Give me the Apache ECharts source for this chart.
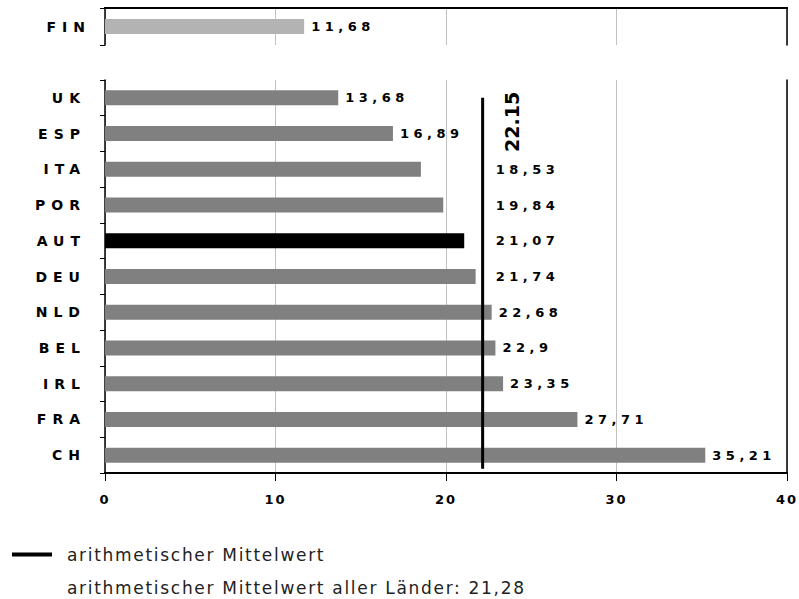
<!DOCTYPE html>
<html>
<head>
<meta charset="utf-8">
<script src="https://cdn.jsdelivr.net/npm/echarts@6/dist/echarts.min.js"></script>
<style>
  html, body { margin: 0; padding: 0; background: #fff; }
  #chart { width: 799px; height: 599px; }
  /* wide tracking for the bold value labels */
  #chart text[style*="bold"] { letter-spacing: 4.5px; }
  /* country names */
  #chart text[style*="bold"][style*="14px"] { letter-spacing: 6px; }
  /* x tick labels */
  #chart text[style*="800"] { letter-spacing: 2px; }
  /* legend / note lines */
  #chart text[style*="17px"] { letter-spacing: 1.7px; }
</style>
</head>
<body>
<div id="chart"></div>
<script>
// Separate reference country shown above the main group
const topCategories = ['FIN'];
const topValues = [11.68];

// Main group, top to bottom
const categories = ['UK', 'ESP', 'ITA', 'POR', 'AUT', 'DEU', 'NLD', 'BEL', 'IRL', 'FRA', 'CH'];
const values = [13.68, 16.89, 18.53, 19.84, 21.07, 21.74, 22.68, 22.9, 23.35, 27.71, 35.21];
const highlighted = 'AUT';

// Mean of the main group and of all countries
const groupMean = 22.15;
const allMeanText = '21,28';

const xTicks = [0, 10, 20, 30, 40];

const FONT = 'DejaVu Sans';
const BAR_GREY = '#808080';
const FIN_GREY = '#b3b3b3';
const GRID_GREY = '#c0c0c0';

// Panel layout
const CHART_W = 799;
const PANEL_LEFT = 105;
const PANEL_RIGHT = 12;
const TOP_PANEL = { top: 8, height: 37 };
const MAIN_PANEL = { top: 80, height: 393 };

const fmt = v => String(v).replace('.', ',');

const chart = echarts.init(document.getElementById('chart'), null, { renderer: 'svg' });

const valueLabel = {
  show: true,
  position: 'right',
  distance: 7,
  color: '#000',
  fontFamily: FONT,
  fontSize: 13,
  fontWeight: 'bold',
  formatter: p => fmt(p.value)
};

function xAxisBase(gridIndex) {
  return {
    type: 'value',
    gridIndex,
    min: xTicks[0],
    max: xTicks[xTicks.length - 1],
    interval: xTicks[1] - xTicks[0],
    splitLine: { show: true, lineStyle: { color: GRID_GREY, width: 1 } }
  };
}

// Vertical frame edge on the right of a panel
function edgeYAxis(gridIndex) {
  return {
    type: 'value', gridIndex, position: 'right', min: 0, max: 1,
    axisLine: { show: true, onZero: false, lineStyle: { color: '#000', width: 1.5 } },
    axisTick: { show: false }, axisLabel: { show: false }, splitLine: { show: false }
  };
}

// Horizontal frame edge drawn as a thin filled strip
function edgeStrip(id, y, h) {
  return {
    id, type: 'rect', z: 100, silent: true,
    shape: { x: PANEL_LEFT - 1, y, width: CHART_W - PANEL_RIGHT - PANEL_LEFT + 2, height: h },
    style: { fill: '#000' }
  };
}

function buildMainData(offsets) {
  return values.map((v, i) => {
    const item = {
      value: v,
      itemStyle: { color: categories[i] === highlighted ? '#000' : BAR_GREY }
    };
    if (offsets && offsets[i]) item.label = { offset: [offsets[i], 0] };
    return item;
  });
}

const catLabel = { color: '#000', fontFamily: FONT, fontSize: 14, fontWeight: 'bold' };

const graphics = [
  {
    id: 'note', type: 'text', left: 67, top: 579,
    style: {
      text: 'arithmetischer Mittelwert aller Länder: ' + allMeanText,
      fill: '#222', fontFamily: FONT, fontSize: 17
    }
  },
  edgeStrip('topEdge', TOP_PANEL.top - 1, 2),
  edgeStrip('baseEdge', MAIN_PANEL.top + MAIN_PANEL.height - 1, 2)
];

const option = {
  animation: false,
  backgroundColor: '#fff',
  grid: [
    { left: PANEL_LEFT, right: PANEL_RIGHT, top: TOP_PANEL.top, height: TOP_PANEL.height },
    { left: PANEL_LEFT, right: PANEL_RIGHT, top: MAIN_PANEL.top, height: MAIN_PANEL.height }
  ],
  xAxis: [
    Object.assign(xAxisBase(0), {
      position: 'top',
      axisLine: { show: false },
      axisTick: { show: false },
      axisLabel: { show: false }
    }),
    Object.assign(xAxisBase(1), {
      position: 'bottom',
      axisLine: { show: false },
      axisTick: { show: true, length: 8, lineStyle: { color: '#000', width: 1 } },
      axisLabel: {
        show: true, margin: 20, color: '#000',
        fontFamily: FONT, fontSize: 13, fontWeight: 800
      }
    })
  ],
  yAxis: [
    {
      type: 'category', gridIndex: 0, data: topCategories, inverse: true,
      axisLine: { show: true, onZero: false, lineStyle: { color: '#000', width: 1.5 } },
      axisTick: { show: true, length: 5, lineStyle: { color: '#000' } },
      axisLabel: Object.assign({ margin: 14 }, catLabel)
    },
    {
      type: 'category', gridIndex: 1, data: categories, inverse: true,
      axisLine: { show: true, onZero: false, lineStyle: { color: '#000', width: 1.5 } },
      axisTick: { show: true, length: 5, lineStyle: { color: '#000' } },
      axisLabel: Object.assign({ margin: 19 }, catLabel)
    },
    edgeYAxis(0),
    edgeYAxis(1),
    // category-unit scale used to place the mean line inside the main group
    {
      type: 'value', gridIndex: 1, min: 0, max: categories.length, inverse: true, show: false
    }
  ],
  legend: {
    left: 7, top: 541,
    icon: 'rect', itemWidth: 40, itemHeight: 4,
    textStyle: { color: '#222', fontFamily: FONT, fontSize: 17, padding: [0, 0, 0, 10] },
    data: ['arithmetischer Mittelwert'],
    selectedMode: false
  },
  graphic: graphics,
  series: [
    {
      type: 'bar', name: 'FIN', xAxisIndex: 0, yAxisIndex: 0,
      barWidth: 15,
      data: topValues.map(v => ({ value: v, itemStyle: { color: FIN_GREY } })),
      label: valueLabel
    },
    {
      type: 'bar', name: 'Länder', xAxisIndex: 1, yAxisIndex: 1,
      barWidth: 15,
      data: buildMainData(null),
      label: valueLabel
    },
    {
      type: 'line', name: 'arithmetischer Mittelwert', xAxisIndex: 1, yAxisIndex: 4,
      symbol: 'circle', symbolSize: 0.1,
      itemStyle: { color: '#000' },
      lineStyle: { color: '#000', width: 3 },
      data: [
        {
          value: [groupMean, 0.5],
          label: {
            show: true, position: 'inside', rotate: 90,
            align: 'center', verticalAlign: 'middle', offset: [-24, 29],
            color: '#000', fontFamily: FONT, fontSize: 19, fontWeight: 700,
            formatter: p => String(p.value[0])
          }
        },
        [groupMean, 10.88]
      ],
      z: 5
    }
  ]
};

chart.setOption(option);

// Labels that would run into the mean line are moved to its right side.
const meanPx = chart.convertToPixel({ xAxisIndex: 1 }, groupMean);
const offsets = values.map(v => {
  const px = chart.convertToPixel({ xAxisIndex: 1 }, v);
  if (v < groupMean && px + 7 + 62 > meanPx) {
    return (meanPx + 13) - (px + 7);
  }
  return 0;
});
chart.setOption({ series: [{}, { data: buildMainData(offsets) }] });
</script>
</body>
</html>
